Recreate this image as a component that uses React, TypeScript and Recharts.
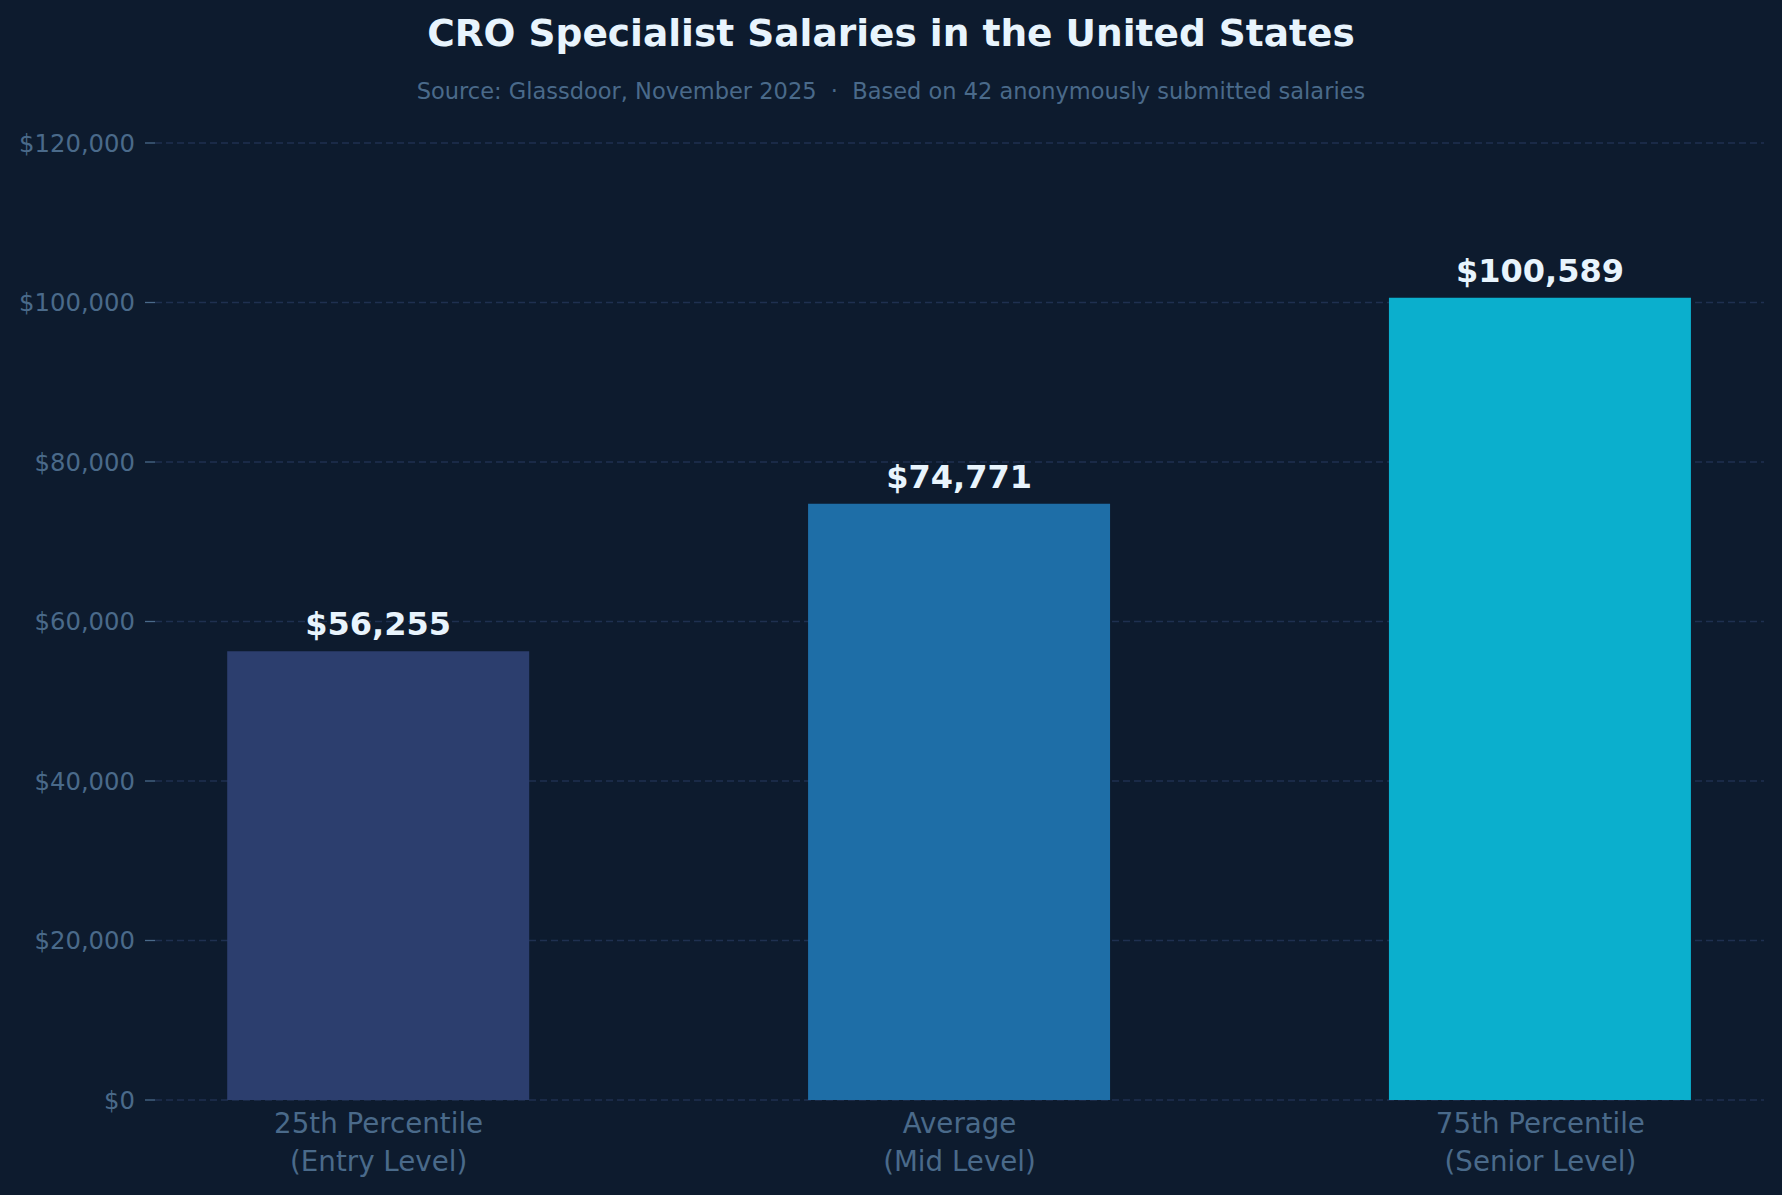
import React from 'react'
import { BarChart, Bar, XAxis, YAxis, CartesianGrid, Cell, LabelList } from 'recharts'

// salary levels (Glassdoor, Nov 2025)
const levels = ['25th Percentile', 'Average', '75th Percentile']
const levelNotes = ['(Entry Level)', '(Mid Level)', '(Senior Level)']
const salaries = [56255, 74771, 100589]
const barColors = ['#2c3e6e', '#1e6ea7', '#0bafcd']
const yTicks = [0, 20000, 40000, 60000, 80000, 100000, 120000]

const W = 1782
const H = 1195
const BG = '#0d1b2e'
const MUTED = '#4a6a8a'
const FONT = '"DejaVu Sans", sans-serif'

const data = salaries.map((salary, i) => ({ idx: i, salary, level: levels[i], note: levelNotes[i] }))

const money = (v: number) => `$${v.toLocaleString('en-US')}`

const CategoryTick = (props: any) => {
  const { x, y, payload } = props
  const i = payload.value as number
  return (
    <g>
      <text x={x} y={y + 33} textAnchor="middle" fill={MUTED} fontSize={27.7} fontFamily={FONT}>
        {levels[i]}
      </text>
      <text x={x} y={y + 71} textAnchor="middle" fill={MUTED} fontSize={27.7} fontFamily={FONT}>
        {levelNotes[i]}
      </text>
    </g>
  )
}

const ValueLabel = (props: any) => {
  const { x, y, width, value } = props
  return (
    <text
      x={x + width / 2}
      y={y - 16}
      textAnchor="middle"
      fill="#e8f4fd"
      fontSize={32}
      fontWeight="bold"
      fontFamily={FONT}
    >
      {money(value)}
    </text>
  )
}

export default function App() {
  return (
    <div style={{ position: 'absolute', left: 0, top: 0, width: W, height: H, background: BG }}>
      <BarChart
        width={W}
        height={H}
        data={data}
        margin={{ top: 143, right: 18, bottom: 0, left: 0 }}
        style={{ position: 'absolute', left: 0, top: 0 }}
      >
        <CartesianGrid vertical={false} stroke="#1f3050" strokeWidth={1.3} strokeDasharray="7 4" />
        <XAxis
          dataKey="idx"
          type="number"
          domain={[-0.385, 2.385]}
          allowDataOverflow
          ticks={[0, 1, 2]}
          axisLine={false}
          tickLine={false}
          tickSize={0}
          tickMargin={0}
          interval={0}
          tick={<CategoryTick />}
          height={95}
        />
        <YAxis
          domain={[0, 120000]}
          ticks={yTicks}
          width={155}
          axisLine={false}
          tickLine={{ stroke: MUTED, strokeWidth: 1.3 }}
          tickSize={10}
          tickMargin={10}
          tickFormatter={money}
          tick={{ fill: MUTED, fontSize: 24.3, fontFamily: FONT }}
        />
        <Bar dataKey="salary" barSize={302} isAnimationActive={false}>
          {data.map((d, i) => (
            <Cell key={d.level} fill={barColors[i]} />
          ))}
          <LabelList dataKey="salary" content={<ValueLabel />} />
        </Bar>
      </BarChart>
      <svg width={W} height={130} style={{ position: 'absolute', left: 0, top: 0, pointerEvents: 'none' }}>
        <text x={W / 2} y={46} textAnchor="middle" fill="#e8f4fd" fontSize={37.5} fontWeight="bold" fontFamily={FONT}>
          CRO Specialist Salaries in the United States
        </text>
        <text
          x={W / 2}
          y={99}
          textAnchor="middle"
          fill={MUTED}
          fontSize={22.5}
          fontFamily={FONT}
          style={{ whiteSpace: 'pre' }}
        >
          {'Source: Glassdoor, November 2025  ·  Based on 42 anonymously submitted salaries'}
        </text>
      </svg>
    </div>
  )
}
